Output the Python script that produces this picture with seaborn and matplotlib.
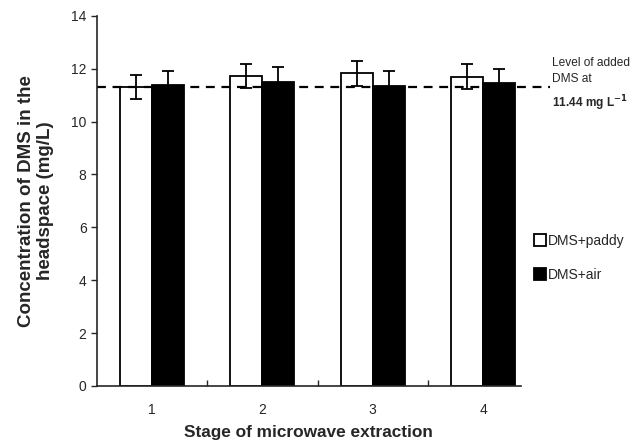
import matplotlib.pyplot as plt
import pandas as pd
import seaborn as sns

# 1. Data
stages = ['1', '2', '3', '4']
paddy = [11.32, 11.73, 11.83, 11.70]
paddy_err = [0.46, 0.45, 0.47, 0.48]
air = [11.39, 11.51, 11.35, 11.48]
air_err = [0.54, 0.55, 0.57, 0.52]
added_level = 11.31
series = ['DMS+paddy', 'DMS+air']

df = pd.DataFrame({
    'Stage': stages * 2,
    'Conc': paddy + air,
    'Err': paddy_err + air_err,
    'Sample': [series[0]] * 4 + [series[1]] * 4,
})

# 2. Plot
sns.set_style("ticks")
plt.rcParams['font.family'] = ['Liberation Sans', 'DejaVu Sans']

fig = plt.figure(figsize=(6.36, 4.43), dpi=100)
ax = fig.add_axes([0.1525, 0.129, 0.666, 0.835])

sns.barplot(data=df, x='Stage', y='Conc', hue='Sample', order=stages,
            hue_order=series, palette=['white', 'black'], width=0.58,
            edgecolor='black', linewidth=1.3, errorbar=None, legend=False, ax=ax)

# error bars on bar centres
for bars, s in zip(ax.containers, series):
    sub = df[df['Sample'] == s]
    xs = [b.get_x() + b.get_width() / 2 for b in bars]
    ax.errorbar(xs, sub['Conc'], yerr=sub['Err'], fmt='none', ecolor='black',
                elinewidth=1.3, capsize=4, capthick=1.3, zorder=5)

# dashed line for added level, running past the axes
ax.plot([0, 1.07], [added_level, added_level], transform=ax.get_yaxis_transform(),
        color='black', linestyle=(0, (4, 3)), linewidth=1.6, clip_on=False, zorder=1)
ax.text(1.074, 0.889, 'Level of added\nDMS at', transform=ax.transAxes,
        fontsize=8.6, va='top', ha='left', linespacing=1.4)
ax.text(1.074, 0.79, r'11.44 mg L$^{\mathbf{-1}}$', transform=ax.transAxes,
        fontsize=8.6, va='top', ha='left', fontweight='bold')

ax.set_ylim(0, 14)
ax.set_yticks(range(0, 15, 2))
ax.set_xlim(-0.5, 3.34)
ax.set_xticks([0.5, 1.5, 2.5], minor=True)
ax.tick_params(axis='x', which='major', length=0, pad=12, labelsize=10)
ax.tick_params(axis='x', which='minor', direction='in', length=4, width=1)
ax.tick_params(axis='y', direction='out', length=4, width=1, labelsize=10)
sns.despine(ax=ax)
for sp in ['left', 'bottom']:
    ax.spines[sp].set_linewidth(1.2)

ax.set_xlabel('Stage of microwave extraction', fontsize=12.4, fontweight='bold', labelpad=6)
ax.set_ylabel('Concentration of DMS in the\nheadspace (mg/L)', fontsize=13.5,
              fontweight='bold', labelpad=12, linespacing=1.15)

# legend
handles = [plt.Line2D([], [], marker='s', linestyle='none', markersize=9,
                      markerfacecolor=c, markeredgecolor='black', markeredgewidth=1.3)
           for c in ['white', 'black']]
ax.legend(handles, series, loc='center left', bbox_to_anchor=(1.0, 0.345),
          frameon=False, fontsize=10, handletextpad=0.1, labelspacing=1.45,
          handlelength=1.0)

plt.savefig('out.png', dpi=100)
